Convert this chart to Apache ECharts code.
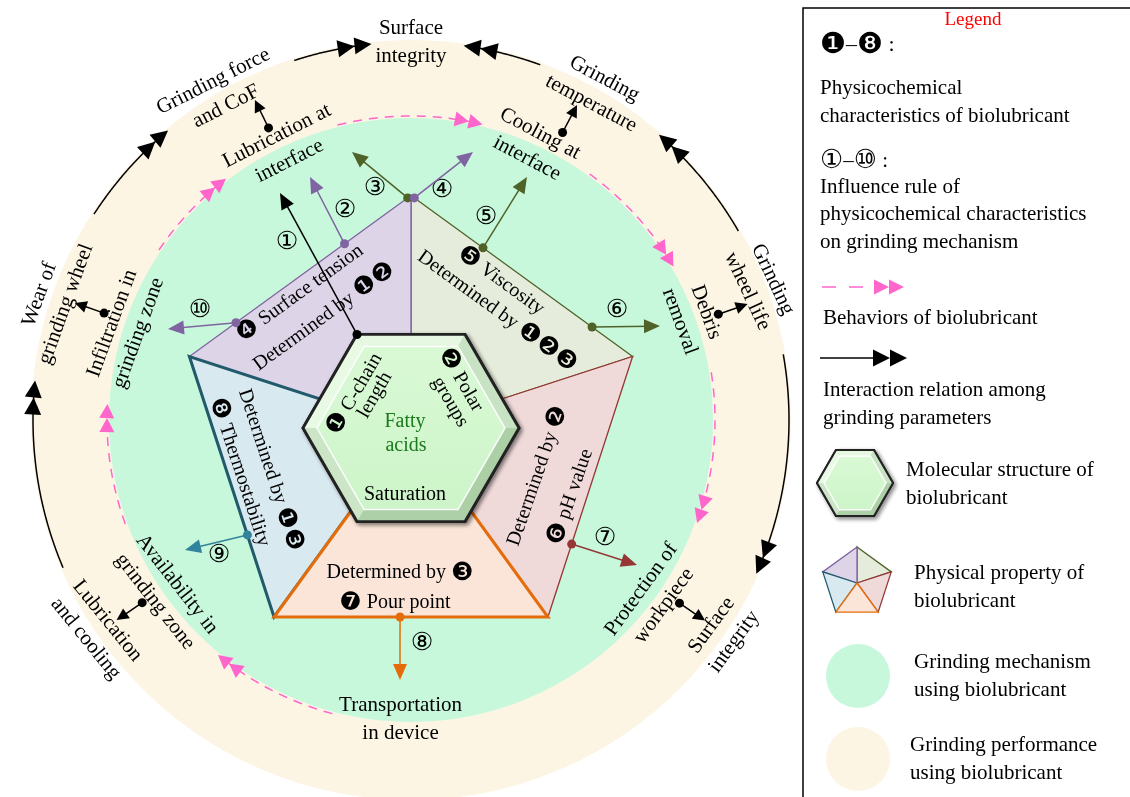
<!DOCTYPE html>
<html>
<head>
<meta charset="utf-8">
<title>Biolubricant grinding mechanism</title>
<script src="https://cdn.jsdelivr.net/npm/echarts@6.0.0/dist/echarts.min.js"></script>
<style>
  html, body { margin: 0; padding: 0; background: #fff; }
  #chart { width: 1130px; height: 797px; }
</style>
</head>
<body>
<div id="chart"></div>
<script>
// ---- content --------------------------------------------------------------
// grinding performance (outer ring), bearing in degrees clockwise from top
const performanceLabels = ['Surface\nintegrity', 'Grinding\ntemperature', 'Grinding\nwheel life', 'Surface\nintegrity', 'Lubrication\nand cooling', 'Wear of\ngrinding wheel', 'Grinding force\nand CoF'];
const performanceBearing = [0, 29.6, 68.9, 124.4, 236.3, -71.4, -30.4];
// grinding mechanism (green disc)
const mechanismLabels = ['Cooling at\ninterface', 'Debris\nremoval', 'Protection of\nworkpiece', 'Transportation\nin device', 'Availability in\ngrinding zone', 'Infiltration in\ngrinding zone', 'Lubrication at\ninterface'];
const mechanismBearing = [24.1, 69.9, 126.3, 182, 234.8, -72.2, -25.2];
// mechanism -> performance links
const linkBearing = [27.8, 71, 124.3, 235.8, -70.8, -26];
// interaction relation among grinding parameters [from, to]
const interactionArcs = [[-57, -40], [-18, -6], [20, 8], [60, 41], [80, 114], [-113, -84]];
// behaviors of biolubricant [from, to]
const behaviourArcs = [[-110, -87], [-56, -37.5], [-14, 13.6], [36, 59.7], [81, 109.8], [195, 219.4]];

// physical properties, pentagon sectors (in drawing order)
const propertyNames = ['Viscosity', 'Surface tension', 'Thermostability', 'pH value', 'Pour point'];
const propertyVertices = [[0, 1], [4, 0], [3, 4], [1, 2], [2, 3]];
const propertyText = [
  ['❺ Viscosity', 'Determined by ❶❷❸'],
  ['❹ Surface tension', 'Determined by ❶❷'],
  ['Determined by ❶❸', '❽ Thermostability'],
  ['Determined by ❷', '❻ pH value'],
  ['Determined by ❸', '❼ Pour point']
];
// molecular structure
const moleculeText = ['❶ C-chain', 'length', '❷ Polar', 'groups', 'Fatty', 'acids', 'Saturation'];

// influence rules: start [edge, t] on the pentagon (edge -1 = hexagon corner), end point
const influenceTags = ['①', '②', '③', '④', '⑤', '⑥', '⑦', '⑧', '⑨', '⑩'];
const influenceStart = [[-1, 0], [4, 0.70], [4, 0.985], [0, 0.015], [0, 0.325], [0, 0.817], [1, 0.72], [2, 0.54], [3, 0.315], [4, 0.21]];
const influenceEnd = [[280, 193], [310, 177], [352, 152], [473, 152], [527, 177], [660, 326], [637, 565], [400, 680], [185, 550], [168, 329]];

// legend
const legendText = ['Legend', '❶–❽ :', 'Physicochemical', 'characteristics of biolubricant', '①–⑩ :',
  'Influence rule of', 'physicochemical characteristics', 'on grinding mechanism', 'Behaviors of biolubricant',
  'Interaction relation among', 'grinding parameters', 'Molecular structure of', 'biolubricant',
  'Physical property of', 'biolubricant', 'Grinding mechanism', 'using biolubricant',
  'Grinding performance', 'using biolubricant'];

// ---- layout & style ---------------------------------------------------------
const CX = 411, CY = 420;                 // wheel centre
const ringRadius = [380, 302];            // performance ring, mechanism disc
const ringColor = ['#fdf5e3', '#c8f8dc'];
const MECH_R = 300, ARC_R = 378, PINK_R = 304;
const performanceR = [378, 378, 374, 378, 378, 378, 378];
const PENT = [411, 428.5, 233];
const LEG_PENT = [857, 583, 36];
const molecules = [[411, 428, 108, 14], [855, 483, 38, 7]];
const performanceTilt = [0, 28, 65, -54, 51, -70, -27];
const mechanismTilt = [28, 70, -54, 0, 52, -70, -27];
const propertyFill = ['#e5ecdb', '#ddd4e8', '#d9e9f0', '#efd9d9', '#fbe5d8'];
const propertyStroke = ['#4f6228', '#8064a2', '#215a6b', '#953735', '#e46c0a'];
const propertyWidth = [1.3, 1.3, 3, 1.3, 3];
const propertyTilt = [36, -36, 72, -71, 0];
const propertyTextAt = [[[501, 281], [497, 311]], [[300, 293], [324, 317]], [[270, 470], [240, 472]], [[537, 476], [571, 497]], [[400, 573], [395, 603]]];
const moleculeTextAt = [[355, 394, -60], [375, 395, -60], [461, 380, 60], [450, 402, 60], [405, 422, 0], [406, 446, 0], [405, 495, 0]];
const influenceColor = ['#000000', '#8064a2', '#4f6228', '#8064a2', '#4f6228', '#4f6228', '#953735', '#e46c0a', '#31849b', '#8064a2'];
const influenceTagAt = [[287, 242], [345, 210], [375, 188], [442, 190], [486, 217], [617, 310], [605, 538], [422, 643], [219, 555], [200, 310]];
const legendTextAt = [[973, 20], [820, 45], [820, 88], [820, 116], [820, 161], [820, 187], [820, 214], [820, 242], [823, 318],
  [823, 390], [823, 418], [906, 470], [906, 498], [914, 573], [914, 601], [914, 662], [914, 690], [910, 745], [910, 773]];
const SERIF = '"Liberation Serif", "Times New Roman", "DejaVu Sans", serif';
const PINK = '#ff66cc';

// ---- helpers ----------------------------------------------------------------
function ringPoint(b, r) {
  const a = b * Math.PI / 180;
  return [CX + r * Math.sin(a), CY - r * Math.cos(a)];
}
function headPts(tip, dir, len, half) {
  const bx = tip[0] - dir[0] * len, by = tip[1] - dir[1] * len;
  return [tip, [bx - dir[1] * half, by + dir[0] * half], [bx + dir[1] * half, by - dir[0] * half]];
}
function mapPts(api, pts) { return pts.map(p => api.coord(p)); }
function mix(a, b, t) {
  return 'rgb(' + a.map((v, i) => Math.round(v + (b[i] - v) * t)).join(',') + ')';
}
function pentVertex(k, c) {
  const a = k * 72 * Math.PI / 180;
  return [c[0] + c[2] * Math.sin(a), c[1] - c[2] * Math.cos(a)];
}
function hexVertex(k, h, r) {
  const a = k * Math.PI / 3;
  return [h[0] + r * Math.cos(a), h[1] + r * Math.sin(a)];
}
// circled digits get their own (larger) glyph style
function richText(s) {
  return s.replace(/([\u2776-\u277f]+)/g, '{n|$1}').replace(/([\u2460-\u2469]+)/g, '{c|$1}');
}

function arcElements(api, from, to, r, color, dash, len, half) {
  const s = to > from ? 1 : -1;
  const stop = to - s * (len * 0.5) / r * 180 / Math.PI;
  const pts = [];
  for (let k = 0; k <= 60; k++) pts.push(ringPoint(from + (stop - from) * k / 60, r));
  const els = [{ type: 'polyline', shape: { points: mapPts(api, pts) },
    style: { stroke: color, lineWidth: 1.5, lineDash: dash, fill: null } }];
  [0, len].forEach(off => {
    const b = to - s * off / r * 180 / Math.PI;
    const a = b * Math.PI / 180;
    const dir = [s * Math.cos(a), s * Math.sin(a)];
    els.push({ type: 'polygon', shape: { points: mapPts(api, headPts(ringPoint(b, r), dir, len, half)) }, style: { fill: color } });
  });
  return { type: 'group', children: els };
}

function sectorElement(api, c, i, lw) {
  const v = propertyVertices[i];
  const pts = [[c[0], c[1]], pentVertex(v[0], c), pentVertex(v[1], c)];
  return { type: 'polygon', shape: { points: mapPts(api, pts) },
    style: { fill: propertyFill[i], stroke: propertyStroke[i], lineWidth: lw || propertyWidth[i], lineJoin: 'miter' } };
}

function hexElements(api, h) {
  const R = h[2], bev = h[3], lw = R > 60 ? 2.8 : 2;
  const outer = [], inner = [];
  for (let k = 0; k < 6; k++) { outer.push(hexVertex(k, h, R)); inner.push(hexVertex(k, h, R - bev)); }
  const els = [{ type: 'polygon', shape: { points: mapPts(api, outer) },
    style: { fill: '#c4e6bd', stroke: '#222', lineWidth: lw, shadowBlur: 4, shadowOffsetX: 2, shadowOffsetY: 2, shadowColor: 'rgba(0,0,0,0.45)' } }];
  for (let k = 0; k < 6; k++) {
    const n = (k * 60 + 30) * Math.PI / 180;
    const d = -0.55 * Math.cos(n) - 0.83 * Math.sin(n);
    els.push({ type: 'polygon', shape: { points: mapPts(api, [outer[k], outer[(k + 1) % 6], inner[(k + 1) % 6], inner[k]]) },
      style: { fill: mix([168, 204, 162], [236, 252, 232], (d + 1) / 2) } });
  }
  els.push({ type: 'polygon', shape: { points: mapPts(api, inner) },
    style: { fill: { type: 'linear', x: 0, y: 0, x2: 0, y2: 1, colorStops: [{ offset: 0, color: '#d9f9d5' }, { offset: 1, color: '#cdf4c9' }] },
      stroke: 'rgba(255,255,255,0.9)', lineWidth: 1.5 } });
  els.push({ type: 'polygon', shape: { points: mapPts(api, outer) }, style: { fill: null, stroke: '#222', lineWidth: lw } });
  return els;
}

function arrowElements(api, from, to, color, len, half, dotR) {
  const dx = to[0] - from[0], dy = to[1] - from[1], L = Math.hypot(dx, dy);
  const dir = [dx / L, dy / L];
  const lineEnd = [to[0] - dir[0] * len * 0.6, to[1] - dir[1] * len * 0.6];
  const p0 = api.coord(from), p1 = api.coord(lineEnd);
  return [
    { type: 'line', shape: { x1: p0[0], y1: p0[1], x2: p1[0], y2: p1[1] }, style: { stroke: color, lineWidth: 1.5 } },
    { type: 'polygon', shape: { points: mapPts(api, headPts(to, dir, len, half)) }, style: { fill: color } },
    { type: 'circle', shape: { cx: p0[0], cy: p0[1], r: dotR }, style: { fill: color } }
  ];
}

function influenceStartPt(i) {
  const e = influenceStart[i][0], t = influenceStart[i][1];
  if (e < 0) return hexVertex(4, molecules[0], molecules[0][2]);
  const a = pentVertex(e, PENT), b = pentVertex((e + 1) % 5, PENT);
  return [a[0] + (b[0] - a[0]) * t, a[1] + (b[1] - a[1]) * t];
}

// ---- text items -----------------------------------------------------------------
const texts = [];
function addText(text, at, rot, size, color, align, dig) {
  texts.push({ text, value: [at[0], at[1]], rot: rot || 0, size: size || 20, color: color || '#000', align: align || 'center', dig: dig || 5 });
}
performanceLabels.forEach((s, i) => addText(s, ringPoint(performanceBearing[i], performanceR[i]), performanceTilt[i], 21));
mechanismLabels.forEach((s, i) => addText(s, ringPoint(mechanismBearing[i], MECH_R), mechanismTilt[i], 21));
propertyText.forEach((lines, i) => lines.forEach((s, j) => addText(s, propertyTextAt[i][j], propertyTilt[i], 20)));
moleculeText.forEach((s, i) => addText(s, moleculeTextAt[i], moleculeTextAt[i][2], 20, i === 4 || i === 5 ? '#1b7a1b' : '#000'));
influenceTags.forEach((s, i) => addText(s, influenceTagAt[i], 0, 20));
legendText.forEach((s, i) => addText(s, legendTextAt[i], 0, i === 1 ? 22 : (i === 0 ? 19 : 21), i === 0 ? '#ff0000' : '#000', i === 0 ? 'center' : 'left', 7));

// ---- chart ----------------------------------------------------------------------
const chart = echarts.init(document.getElementById('chart'));
const custom = (name, data, renderItem, z) => ({
  name, type: 'custom', coordinateSystem: 'cartesian2d', silent: true, clip: false, z, data, renderItem
});

chart.setOption({
  animation: false,
  tooltip: { show: false },
  grid: { left: 0, right: 0, top: 0, bottom: 0 },
  xAxis: { type: 'value', min: 0, max: 1130, show: false },
  yAxis: { type: 'value', min: 0, max: 797, inverse: true, show: false },
  series: [
    custom('rings', ringRadius.map((r, i) => [r, i]), (params, api) => {
      const c = api.coord([CX, CY]);
      return { type: 'circle', shape: { cx: c[0], cy: c[1], r: api.size([api.value(0), 0])[0] }, style: { fill: ringColor[params.dataIndex] } };
    }, 1),
    custom('behaviors', behaviourArcs, (params, api) =>
      arcElements(api, api.value(0), api.value(1), PINK_R, PINK, [9, 7], 14, 7.5), 2),
    custom('interactions', interactionArcs, (params, api) =>
      arcElements(api, api.value(0), api.value(1), ARC_R, '#000', null, 17, 8.5), 2),
    custom('properties', propertyVertices, (params, api) => sectorElement(api, PENT, params.dataIndex), 3),
    custom('molecule', [[molecules[0][0], molecules[0][1]]], (params, api) =>
      ({ type: 'group', children: hexElements(api, molecules[0]) }), 4),
    custom('links', linkBearing.map((b, i) => [b, i]), (params, api) =>
      ({ type: 'group', children: arrowElements(api, ringPoint(api.value(0), 325), ringPoint(api.value(0), 356), '#000', 12, 6, 4.5) }), 5),
    custom('texts', texts.map(t => t.value), (params, api) => {
      const t = texts[params.dataIndex];
      const p = api.coord([api.value(0), api.value(1)]);
      return { type: 'text', x: p[0], y: p[1], rotation: -t.rot * Math.PI / 180,
        style: { text: richText(t.text), fill: t.color, fontSize: t.size, fontFamily: SERIF, align: t.align, verticalAlign: 'middle', lineHeight: 28,
          rich: {
            n: { fontSize: t.size + t.dig, fontFamily: '"DejaVu Sans", sans-serif', fill: t.color, lineHeight: 28, verticalAlign: 'middle' },
            c: { fontSize: t.size + 5, fontFamily: '"DejaVu Sans", sans-serif', fill: t.color, lineHeight: 28, verticalAlign: 'middle' }
          } } };
    }, 6),
    custom('influences', influenceEnd, (params, api) =>
      ({ type: 'group', children: arrowElements(api, influenceStartPt(params.dataIndex), [api.value(0), api.value(1)], influenceColor[params.dataIndex], 16, 7, 4.5) }), 7),
    custom('legendIcons', [[803, 8]], (params, api) => {
      const o = api.coord([api.value(0), api.value(1)]);
      const els = [{ type: 'rect', shape: { x: o[0], y: o[1], width: 400, height: 820 }, style: { fill: null, stroke: '#000', lineWidth: 1.5 } }];
      // behaviors of biolubricant
      [[822, 836], [849, 863]].forEach(s => {
        const a = api.coord([s[0], 287]), b = api.coord([s[1], 287]);
        els.push({ type: 'line', shape: { x1: a[0], y1: a[1], x2: b[0], y2: b[1] }, style: { stroke: PINK, lineWidth: 1.5 } });
      });
      [889, 904].forEach(x => els.push({ type: 'polygon', shape: { points: mapPts(api, headPts([x, 287], [1, 0], 15, 7.5)) }, style: { fill: PINK } }));
      // interaction relation
      const a = api.coord([820, 358]), b = api.coord([880, 358]);
      els.push({ type: 'line', shape: { x1: a[0], y1: a[1], x2: b[0], y2: b[1] }, style: { stroke: '#000', lineWidth: 1.5 } });
      [890, 907].forEach(x => els.push({ type: 'polygon', shape: { points: mapPts(api, headPts([x, 358], [1, 0], 17, 8.5)) }, style: { fill: '#000' } }));
      hexElements(api, molecules[1]).forEach(e => els.push(e));
      propertyVertices.forEach((v, i) => els.push(sectorElement(api, LEG_PENT, i, 1.3)));
      const g = api.coord([858, 676]), c = api.coord([858, 759]);
      els.push({ type: 'circle', shape: { cx: g[0], cy: g[1], r: 32 }, style: { fill: ringColor[1] } });
      els.push({ type: 'circle', shape: { cx: c[0], cy: c[1], r: 32 }, style: { fill: ringColor[0] } });
      return { type: 'group', children: els };
    }, 8)
  ]
});
</script>
</body>
</html>
